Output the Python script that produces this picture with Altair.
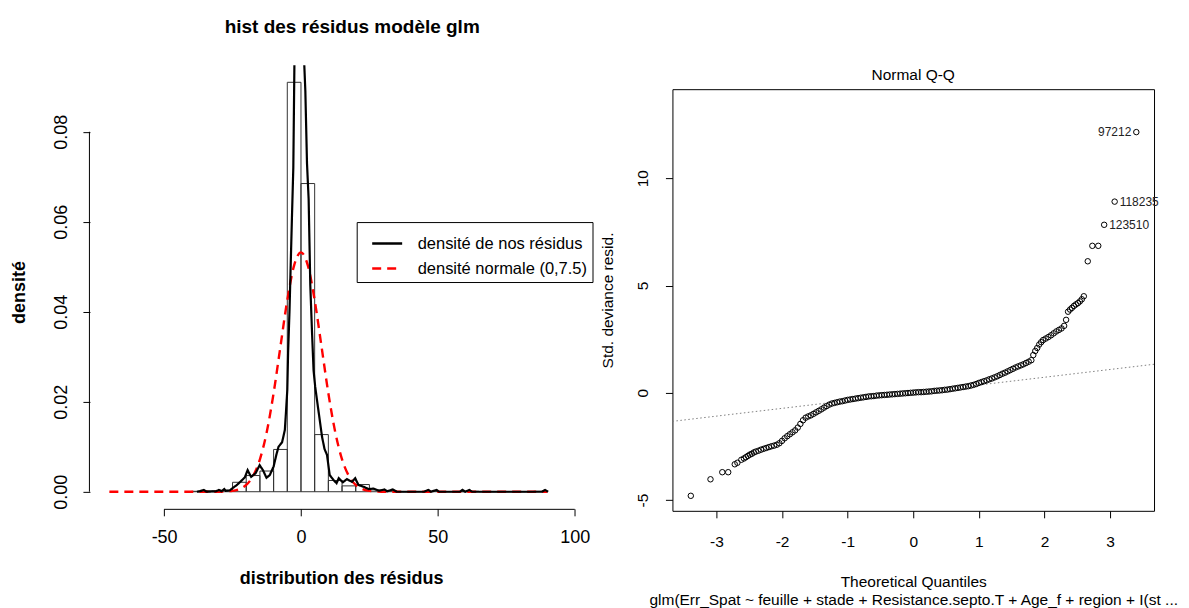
import altair as alt
import pandas as pd

FONT = "Liberation Sans"

# ---------------- left panel data ----------------
bin_start = [-40, -35, -30, -25, -20, -15, -10, -5, 0, 5, 10, 15, 20, 25, 30, 35, 40, 45, 50, 55, 60, 65, 70, 75, 80, 85]
bin_density = [0.0001, 0.0002, 0.0003, 0.0021, 0.0036, 0.0046, 0.0094, 0.0910, 0.0685, 0.0127, 0.0025, 0.0013,
               0.0016, 0.0004, 0.0002, 0, 0, 0.0001, 0, 0, 0.0001, 0, 0, 0, 0, 0.0001]
BIN_WIDTH = 5

dens_x = [-38, -37, -35.5, -34.5, -31, -30, -29, -28, -27.5, -26, -25, -23.4, -21.5, -20.5, -19.5, -18.2, -16.6,
          -15.1, -13.9, -12.6, -11.4, -10, -9, -8.2, -6.9, -5.9, -5.5, -5.0, -4.7, -4.2, -3.3, -2.8, -2.4, -2.0,
          -1.0, 0.0, 0.8, 1.2, 1.6, 2.2, 2.8, 3.4, 4.0, 4.6, 5.2, 6.5, 7.7, 8.6, 9.5, 10.5, 11.9, 13.0, 13.8, 15.3,
          16.8, 18.6, 19.8, 21.0, 22.9, 24.7, 26.5, 28.5, 30.5, 31.5, 33.5, 35, 45, 46.5, 47.5, 49.5, 50.5, 58, 59,
          60, 61.5, 62.5, 88, 89.2, 90.3]
dens_y = [0.0000, 0.0001, 0.0004, 0.0000, 0.0001, 0.0004, 0.0001, 0.0006, 0.0002, 0.0003, 0.0008, 0.0015, 0.0026,
          0.0032, 0.0048, 0.0033, 0.0041, 0.0059, 0.0048, 0.0031, 0.0037, 0.0056, 0.0082, 0.0100, 0.0110, 0.0137,
          0.0175, 0.0226, 0.0310, 0.0400, 0.0610, 0.0720, 0.0950, 0.1100, 0.1250, 0.1250, 0.1100, 0.0950, 0.0890,
          0.0730, 0.0650, 0.0460, 0.0360, 0.0270, 0.0233, 0.0175, 0.0122, 0.0095, 0.0082, 0.0037, 0.0026, 0.0019,
          0.0030, 0.0021, 0.0028, 0.0022, 0.0030, 0.0015, 0.0011, 0.0006, 0.0007, 0.0002, 0.0005, 0.0001, 0.0005,
          0.0000, 0.0000, 0.0004, 0.0000, 0.0004, 0.0000, 0.0000, 0.0004, 0.0000, 0.0004, 0.0000, 0.0000, 0.0004,
          0.0000]

norm_x = [-70, -50, -35, -30, -27.5, -25, -22.5, -20, -17.5, -15, -12.5, -10, -7.5, -5, -2.5, 0, 2.5, 5, 7.5, 10,
          12.5, 15, 17.5, 20, 22.5, 25, 27.5, 30, 35, 50, 70, 90]
norm_y = [0, 0, 0, 0, 0.0001, 0.0002, 0.0006, 0.0015, 0.0035, 0.0072, 0.0133, 0.0219, 0.0323, 0.0426, 0.0503,
          0.0532, 0.0503, 0.0426, 0.0323, 0.0219, 0.0133, 0.0072, 0.0035, 0.0015, 0.0006, 0.0002, 0.0001, 0, 0, 0,
          0, 0]

SERIES = ["densité de nos résidus", "densité normale (0,7.5)"]
hist_x_ticks = [-50, 0, 50, 100]
hist_y_ticks = [0.00, 0.02, 0.04, 0.06, 0.08]

# ---------------- right panel data ----------------
qq_x = [-3.39, -3.09, -2.91, -2.82, -2.72, -2.68, -2.62, -2.58, -2.55, -2.52, -2.49, -2.46, -2.43,
        -2.40, -2.36, -2.32, -2.28, -2.24, -2.20, -2.16, -2.12, -2.08, -2.04, -2.00, -1.96, -1.92, -1.88,
        -1.84, -1.80, -1.76, -1.72, -1.68, -1.64, -1.60, -1.56, -1.52, -1.48, -1.44, -1.40, -1.36, -1.32,
        -1.28, -1.24, -1.20, -1.16, -1.12, -1.08, -1.04, -1.00, -0.96, -0.92, -0.88, -0.84, -0.80, -0.76,
        -0.72, -0.68, -0.64, -0.60, -0.56, -0.52, -0.48, -0.44, -0.40, -0.36, -0.32, -0.28, -0.24, -0.20,
        -0.16, -0.12, -0.08, -0.04, 0.00, 0.04, 0.08, 0.12, 0.16, 0.20, 0.24, 0.28, 0.32, 0.36, 0.40, 0.44,
        0.48, 0.52, 0.56, 0.60, 0.64, 0.68, 0.72, 0.76, 0.80, 0.84, 0.88, 0.92, 0.96, 1.00, 1.04, 1.08,
        1.12, 1.16, 1.20, 1.24, 1.28, 1.32, 1.36, 1.40, 1.44, 1.48, 1.52, 1.56, 1.60, 1.64, 1.68, 1.72,
        1.76, 1.80, 1.83, 1.86, 1.89, 1.92, 1.95, 1.98, 2.02, 2.06, 2.10, 2.14, 2.18, 2.22, 2.26, 2.30,
        2.33, 2.36, 2.39, 2.42, 2.45, 2.48, 2.51, 2.54, 2.57, 2.60, 2.66, 2.73, 2.82, 2.91, 3.07, 3.40]
qq_y = [-4.80, -4.03, -3.70, -3.70, -3.33, -3.26, -3.12, -3.06, -3.00, -2.94, -2.88, -2.84, -2.78,
        -2.74, -2.70, -2.65, -2.61, -2.57, -2.53, -2.49, -2.46, -2.42, -2.35, -2.24, -2.12, -2.02, -1.93,
        -1.84, -1.75, -1.62, -1.45, -1.28, -1.16, -1.10, -1.05, -0.98, -0.91, -0.84, -0.77, -0.69, -0.62,
        -0.55, -0.50, -0.47, -0.44, -0.41, -0.39, -0.36, -0.33, -0.31, -0.29, -0.27, -0.25, -0.23, -0.21,
        -0.19, -0.17, -0.16, -0.15, -0.13, -0.12, -0.11, -0.10, -0.09, -0.08, -0.07, -0.06, -0.05, -0.04,
        -0.03, -0.02, -0.01, 0.00, 0.01, 0.02, 0.03, 0.03, 0.04, 0.05, 0.06, 0.07, 0.09, 0.10, 0.11, 0.12,
        0.14, 0.15, 0.17, 0.19, 0.21, 0.23, 0.25, 0.27, 0.29, 0.31, 0.34, 0.37, 0.41, 0.46, 0.50, 0.54,
        0.58, 0.63, 0.67, 0.72, 0.77, 0.83, 0.89, 0.94, 1.00, 1.06, 1.12, 1.18, 1.23, 1.28, 1.33, 1.39,
        1.45, 1.52, 1.76, 1.95, 2.09, 2.25, 2.36, 2.46, 2.53, 2.60, 2.68, 2.77, 2.86, 2.93, 3.00, 3.12,
        3.40, 3.78, 3.88, 3.96, 4.05, 4.12, 4.18, 4.26, 4.36, 4.50, 6.13, 6.85, 6.85, 7.83, 8.91, 12.15]

qqline_x = [-3.67, 3.67]
qqline_y = [-1.33, 1.33]

out_labels = ["97212", "118235", "123510"]
out_x = [3.40, 3.07, 2.91]
out_y = [12.15, 8.91, 7.83]
out_align = ["right", "left", "left"]

qq_x_ticks = [-3, -2, -1, 0, 1, 2, 3]
qq_y_ticks = [-5, 0, 5, 10]

caption = "glm(Err_Spat ~ feuille + stade + Resistance.septo.T + Age_f + region + I(st ..."

MINUS_FIX = "replace(datum.label, '\u2212', '-')"

# ---------------- left panel ----------------
LW, LH = 503, 444
LX_DOM = [-77.1, 106.5]
LY_DOM = [-0.0038, 0.0948]
lx_scale = alt.Scale(domain=LX_DOM, nice=False, zero=False)
ly_scale = alt.Scale(domain=LY_DOM, nice=False, zero=False)

lx_axis = alt.Axis(values=hist_x_ticks, domain=False, grid=False, tickSize=7, tickColor="black",
                   labelFontSize=18, labelFont=FONT, labelColor="black", labelPadding=13,
                   labelExpr=MINUS_FIX,
                   title="distribution des résidus", titleFont=FONT, titleFontSize=18,
                   titleFontWeight="bold", titleColor="black", titleY=70, titleBaseline="middle")
ly_axis = alt.Axis(values=hist_y_ticks, format=".2f", domain=False, grid=False, tickSize=7,
                   tickColor="black", labelFontSize=18, labelFont=FONT, labelColor="black",
                   labelAngle=270, labelAlign="center", labelBaseline="bottom", labelPadding=12,
                   title="densité", titleFont=FONT, titleFontSize=18, titleFontWeight="bold",
                   titleColor="black", titleAngle=270, titleX=-70, titleY=LH / 2 + 5,
                   titleBaseline="middle", titleAlign="center")

hist_df = pd.DataFrame({"start": bin_start,
                        "end": [s + BIN_WIDTH for s in bin_start],
                        "density": bin_density})
dens_df = pd.DataFrame({"start": dens_x, "density": dens_y, "serie": SERIES[0]})
norm_df = pd.DataFrame({"start": norm_x, "density": norm_y, "serie": SERIES[1]})

color_scale = alt.Scale(domain=SERIES, range=["black", "red"])
dash_scale = alt.Scale(domain=SERIES, range=[[1, 0], [9, 6]])
leg = alt.Legend(title=None, orient="none", legendX=267, legendY=157, strokeColor="black",
                 fillColor="white", padding=5, labelFontSize=16.5, labelFont=FONT, labelColor="black",
                 symbolType="stroke", symbolSize=900, symbolStrokeWidth=2.5, symbolOffset=9,
                 labelOffset=14, rowPadding=-8, cornerRadius=0, labelLimit=400)

LX = alt.X("start:Q", scale=lx_scale, axis=lx_axis)
LY = alt.Y("density:Q", scale=ly_scale, axis=ly_axis)

bars = alt.Chart(hist_df).mark_rect(fill="white", fillOpacity=0, stroke="#333333", strokeWidth=1,
                                    clip=True).encode(x=LX, x2="end:Q", y=LY, y2=alt.datum(0))

norm_line = alt.Chart(norm_df).mark_line(strokeWidth=2.4, clip=True, interpolate="monotone").encode(
    x=LX, y=LY,
    color=alt.Color("serie:N", scale=color_scale, legend=leg),
    strokeDash=alt.StrokeDash("serie:N", scale=dash_scale, legend=leg),
)
dens_line = alt.Chart(dens_df).mark_line(strokeWidth=2.2, clip=True).encode(
    x=LX, y=LY,
    color=alt.Color("serie:N", scale=color_scale, legend=leg),
    strokeDash=alt.StrokeDash("serie:N", scale=dash_scale, legend=leg),
)

xaxis_line = alt.Chart(pd.DataFrame({"start": [hist_x_ticks[0]], "end": [hist_x_ticks[-1]]})).mark_rule(
    color="black", strokeWidth=1).encode(x=LX, x2="end:Q", y=alt.value(LH + 0.5))
yaxis_line = alt.Chart(pd.DataFrame({"density": [hist_y_ticks[0]], "top": [hist_y_ticks[-1]]})).mark_rule(
    color="black", strokeWidth=1).encode(y=LY, y2="top:Q", x=alt.value(-0.5))

left = alt.layer(bars, norm_line, dens_line, xaxis_line, yaxis_line).properties(width=LW, height=LH)

# ---------------- right panel ----------------
RW, RH = 482, 422
RFS = 15.5
RX_DOM = [-3.67, 3.67]
RY_DOM = [-5.5, 14.15]
rx_scale = alt.Scale(domain=RX_DOM, nice=False, zero=False)
ry_scale = alt.Scale(domain=RY_DOM, nice=False, zero=False)

rx_axis = alt.Axis(values=qq_x_ticks, domain=False, grid=False, tickSize=7, tickColor="black",
                   labelFontSize=RFS, labelFont=FONT, labelColor="black", labelPadding=17,
                   labelExpr=MINUS_FIX,
                   title=["Theoretical Quantiles", caption], titleFont=FONT, titleFontSize=RFS,
                   titleFontWeight="normal", titleColor="black", titleY=75.5,
                   titleBaseline="alphabetic", titleLineHeight=18.5)
ry_axis = alt.Axis(values=qq_y_ticks, domain=False, grid=False, tickSize=7, tickColor="black",
                   labelFontSize=RFS, labelFont=FONT, labelColor="black", labelAngle=270,
                   labelAlign="center", labelBaseline="bottom", labelPadding=15,
                   labelExpr=MINUS_FIX,
                   title="Std. deviance resid.", titleFont=FONT, titleFontSize=RFS,
                   titleFontWeight="normal", titleColor="black", titleAngle=270, titleX=-65,
                   titleY=RH / 2, titleBaseline="middle", titleAlign="center")
RX = alt.X("q:Q", scale=rx_scale, axis=rx_axis)
RY = alt.Y("r:Q", scale=ry_scale, axis=ry_axis)

qq_df = pd.DataFrame({"q": qq_x, "r": qq_y})
qql_df = pd.DataFrame({"q": qqline_x, "r": qqline_y})
lab_df = pd.DataFrame({"q": out_x, "r": out_y, "t": out_labels, "al": out_align})

pts = alt.Chart(qq_df).mark_point(shape="circle", filled=False, size=30, color="black", strokeWidth=1,
                                  opacity=1).encode(x=RX, y=RY)
qqline = alt.Chart(qql_df).mark_line(color="#808080", strokeWidth=1, strokeDash=[1.5, 2.5],
                                     clip=True).encode(x=RX, y=RY)
lab_r = alt.Chart(lab_df).transform_filter(alt.datum.al == "right").mark_text(
    align="right", baseline="middle", dx=-5, fontSize=12, font=FONT, color="#222222").encode(
    x=RX, y=RY, text="t:N")
lab_l = alt.Chart(lab_df).transform_filter(alt.datum.al == "left").mark_text(
    align="left", baseline="middle", dx=5, fontSize=12, font=FONT, color="#222222").encode(
    x=RX, y=RY, text="t:N")

right = alt.layer(qqline, pts, lab_r, lab_l).properties(
    width=RW, height=RH,
    title=alt.TitleParams("Normal Q-Q", font=FONT, fontSize=RFS, fontWeight="normal", color="black",
                          offset=6, anchor="middle"),
    view=alt.ViewBackground(stroke="black", strokeWidth=1),
)

# a 1-px invisible strip above the Q-Q panel so that its box starts lower than the histogram
spacer = alt.Chart(pd.DataFrame({"s": [0]})).mark_rule(opacity=0, strokeWidth=0).encode(
    x=alt.value(0), x2=alt.value(1), y=alt.value(0.5)).properties(width=RW, height=1)

right_col = alt.vconcat(spacer, right, spacing=0)

chart = alt.hconcat(left, right_col, spacing=6).properties(
    title=alt.TitleParams("hist des résidus modèle glm", font=FONT, fontSize=19, fontWeight="bold",
                          color="black", anchor="start", align="center", dx=342, offset=28),
    padding={"left": 2, "top": 9, "right": 2, "bottom": 2},
    background="white",
).configure_view(stroke="transparent")

chart.save("out.html", embed_options={"renderer": "svg", "actions": False})
